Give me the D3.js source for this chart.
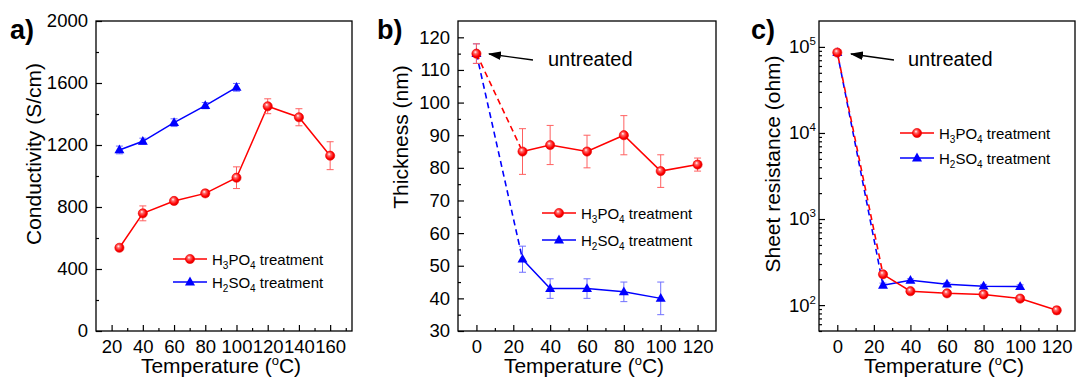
<!DOCTYPE html>
<html><head><meta charset="utf-8">
<script src="https://cdn.jsdelivr.net/npm/d3@7"></script>
<style>
body{margin:0;background:#fff}
svg{display:block}
text{font-family:"Liberation Sans",Arial,Helvetica,sans-serif;fill:#000}
</style>
</head><body>
<svg id="chart" width="1077" height="379"></svg>
<script>
// ---------------- DATA ----------------
// Panel a: conductivity (S/cm)
const tempA_H3PO4 = [25, 40, 60, 80, 100, 120, 140, 160];
const cond_H3PO4 = [537, 759, 839, 888, 989, 1450, 1379, 1131];
const cond_H3PO4_err = [15, 48, 15, 20, 70, 48, 55, 90];
const tempA_H2SO4 = [25, 40, 60, 80, 100];
const cond_H2SO4 = [1168, 1224, 1344, 1454, 1572];
const cond_H2SO4_err = [25, 20, 25, 20, 25];
const xTicksA = [20, 40, 60, 80, 100, 120, 140, 160];
const yTicksA = [0, 400, 800, 1200, 1600, 2000];

// Panel b: thickness (nm)
const tempB_H3PO4 = [0, 25, 40, 60, 80, 100, 120];
const thick_H3PO4 = [115, 85, 87, 85, 90, 79, 81];
const thick_H3PO4_err = [3, 7, 6, 5, 6, 5, 2];
const tempB_H2SO4 = [0, 25, 40, 60, 80, 100];
const thick_H2SO4 = [115, 52, 43, 43, 42, 40];
const thick_H2SO4_err = [3, 4, 3, 3, 3, 5];
const xTicksB = [0, 20, 40, 60, 80, 100, 120];
const yTicksB = [30, 40, 50, 60, 70, 80, 90, 100, 110, 120];

// Panel c: sheet resistance (ohm)
const tempC_H3PO4 = [0, 25, 40, 60, 80, 100, 120];
const res_H3PO4 = [86000, 228, 145, 137, 133, 119, 87];
const res_H3PO4_err = [5000, 14, 8, 8, 10, 8, 8];
const tempC_H2SO4 = [0, 25, 40, 60, 80, 100];
const res_H2SO4 = [86000, 170, 194, 175, 166, 164];
const res_H2SO4_err = [5000, 10, 8, 8, 8, 8];
const xTicksC = [0, 20, 40, 60, 80, 100, 120];
const yExpC = [2, 3, 4, 5];

const seriesNames = [["H", "3", "PO", "4", " treatment"], ["H", "2", "SO", "4", " treatment"]];
const RED = "#ff0000", BLUE = "#0000ff";
const TICK_FS = 18.5;

// ---------------- SETUP ----------------
const svg = d3.select("#chart");
const defs = svg.append("defs");
const grad = defs.append("radialGradient").attr("id", "sphere")
  .attr("cx", "45%").attr("cy", "45%").attr("r", "60%").attr("fx", "38%").attr("fy", "32%");
grad.append("stop").attr("offset", "0%").attr("stop-color", "#ffffff");
grad.append("stop").attr("offset", "28%").attr("stop-color", "#ff6a6a");
grad.append("stop").attr("offset", "70%").attr("stop-color", "#ff0000");
grad.append("stop").attr("offset", "100%").attr("stop-color", "#d00000");

defs.append("marker").attr("id", "arrow").attr("markerUnits", "userSpaceOnUse")
  .attr("viewBox", "0 0 12 8").attr("refX", 11).attr("refY", 4)
  .attr("markerWidth", 13).attr("markerHeight", 9).attr("orient", "auto")
  .append("path").attr("d", "M0,0 L12,4 L0,8 Z").attr("fill", "#000");

function styleAxis(g, fs) {
  g.select(".domain").remove();
  g.selectAll(".tick line").attr("stroke", "#000").attr("stroke-width", 1.2);
  g.selectAll(".tick text").attr("font-size", fs).attr("fill", "#000")
    .style("font-family", '"Liberation Sans",Arial,sans-serif');
}

function makePanel(cfg) {
  const p = {};
  p.x = d3.scaleLinear().domain(cfg.xDomain).range([cfg.left, cfg.right]);
  p.y = (cfg.log ? d3.scaleLog() : d3.scaleLinear()).domain(cfg.yDomain).range([cfg.bottom, cfg.top]);
  p.g = svg.append("g");
  // minor ticks
  const gxm = p.g.append("g").attr("transform", `translate(0,${cfg.bottom})`)
    .call(d3.axisBottom(p.x).tickValues(cfg.xMinor).tickSize(-3).tickFormat(""));
  styleAxis(gxm, TICK_FS);
  const gym = p.g.append("g").attr("transform", `translate(${cfg.left},0)`)
    .call(d3.axisLeft(p.y).tickValues(cfg.yMinor).tickSize(-3).tickFormat(""));
  styleAxis(gym, TICK_FS);
  // major ticks
  const gx = p.g.append("g").attr("transform", `translate(0,${cfg.bottom})`)
    .call(d3.axisBottom(p.x).tickValues(cfg.xTicks).tickSize(-6).tickPadding(9).tickFormat(d => d));
  styleAxis(gx, TICK_FS);
  const gy = p.g.append("g").attr("transform", `translate(${cfg.left},0)`)
    .call(d3.axisLeft(p.y).tickValues(cfg.yTicks).tickSize(-6).tickPadding(cfg.log ? 3 : 8)
      .tickFormat(cfg.log ? (() => "") : (d => d)));
  styleAxis(gy, TICK_FS);
  if (cfg.log) {
    gy.selectAll(".tick").each(function (d) {
      const t = d3.select(this).select("text");
      t.text(null).attr("x", -3).attr("dy", "0.32em").attr("text-anchor", "end");
      t.append("tspan").text("10");
      t.append("tspan").attr("font-size", 11.5).attr("dy", -8).text(Math.round(Math.log10(d)));
    });
  }
  // frame
  p.g.append("rect").attr("x", cfg.left).attr("y", cfg.top)
    .attr("width", cfg.right - cfg.left).attr("height", cfg.bottom - cfg.top)
    .attr("fill", "none").attr("stroke", "#000").attr("stroke-width", 1.3);
  // titles
  p.g.append("text").attr("transform", `translate(${cfg.ytX},${cfg.ytY}) rotate(-90)`)
    .attr("text-anchor", "middle").attr("font-size", 21).text(cfg.yTitle);
  const xt = p.g.append("text").attr("x", (cfg.left + cfg.right) / 2 - 3).attr("y", 373)
    .attr("text-anchor", "middle").attr("font-size", 21);
  xt.append("tspan").text("Temperature (");
  xt.append("tspan").attr("font-size", 13).attr("dy", -8).text("o");
  xt.append("tspan").attr("dy", 8).text("C)");
  p.g.append("text").attr("x", cfg.labelX).attr("y", 39).attr("font-size", 27)
    .attr("font-weight", "bold").text(cfg.label);
  p.lines = p.g.append("g");
  p.errs = p.g.append("g");
  p.marks = p.g.append("g");
  return p;
}

function markerShape(sel, kind, cx, cy) {
  if (kind === "circle") {
    sel.append("circle").attr("cx", cx).attr("cy", cy).attr("r", 4.6)
      .attr("fill", "url(#sphere)").attr("stroke", "#ee0000").attr("stroke-width", 0.6);
  } else {
    sel.append("path").attr("transform", `translate(${cx},${cy})`)
      .attr("d", "M0,-5.4 L5,3.4 L-5,3.4 Z").attr("fill", BLUE);
  }
}

function drawSeries(p, xs, ys, errs, color, errColor, kind, dashedFirst, dashOffset) {
  const pts = xs.map((t, i) => ({ t, v: ys[i], e: errs[i] }));
  const line = d3.line().x(d => p.x(d.t)).y(d => p.y(d.v));
  if (dashedFirst) {
    p.lines.append("path").datum(pts.slice(0, 2)).attr("d", line).attr("fill", "none")
      .attr("stroke", color).attr("stroke-width", 1.6).attr("stroke-dasharray", "6,4")
      .attr("stroke-dashoffset", dashOffset || 0);
    p.lines.append("path").datum(pts.slice(1)).attr("d", line).attr("fill", "none")
      .attr("stroke", color).attr("stroke-width", 1.5);
  } else {
    p.lines.append("path").datum(pts).attr("d", line).attr("fill", "none")
      .attr("stroke", color).attr("stroke-width", 1.5);
  }
  pts.forEach(d => {
    const cx = p.x(d.t), y1 = p.y(d.v + d.e), y2 = p.y(d.v - d.e);
    const g = p.errs.append("g").attr("stroke", errColor).attr("stroke-width", 1);
    g.append("line").attr("x1", cx).attr("x2", cx).attr("y1", y1).attr("y2", y2);
    g.append("line").attr("x1", cx - 3.5).attr("x2", cx + 3.5).attr("y1", y1).attr("y2", y1);
    g.append("line").attr("x1", cx - 3.5).attr("x2", cx + 3.5).attr("y1", y2).attr("y2", y2);
    markerShape(p.marks, kind, cx, p.y(d.v));
  });
}

function legend(x0, y0, dy) {
  const g = svg.append("g");
  [[RED, "circle"], [BLUE, "tri"]].forEach((s, i) => {
    const y = y0 + i * dy;
    g.append("line").attr("x1", x0).attr("x2", x0 + 34).attr("y1", y).attr("y2", y)
      .attr("stroke", s[0]).attr("stroke-width", 1.5);
    markerShape(g, s[1], x0 + 17, y);
    const t = g.append("text").attr("x", x0 + 39).attr("y", y + 5.5).attr("font-size", 15);
    const n = seriesNames[i];
    t.append("tspan").text(n[0]);
    t.append("tspan").attr("font-size", 10).attr("dy", 4).text(n[1]);
    t.append("tspan").attr("dy", -4).text(n[2]);
    t.append("tspan").attr("font-size", 10).attr("dy", 4).text(n[3]);
    t.append("tspan").attr("dy", -4).text(n[4]);
  });
}

function annotate(x1, y1, x2, y2, tx) {
  svg.append("line").attr("x1", x1).attr("y1", y1).attr("x2", x2).attr("y2", y2)
    .attr("stroke", "#000").attr("stroke-width", 1.3).attr("marker-end", "url(#arrow)");
  svg.append("text").attr("x", tx).attr("y", 66).attr("font-size", 20).text("untreated");
}

const range = (a, b, s) => d3.range(a, b + 0.001, s);

// ---------------- PANEL a ----------------
const pa = makePanel({
  left: 96, right: 352, top: 21, bottom: 331,
  xDomain: [10, 174], yDomain: [0, 2000],
  xTicks: xTicksA, xMinor: range(30, 170, 20),
  yTicks: yTicksA, yMinor: range(200, 1800, 400),
  yTitle: "Conductivity (S/cm)", ytX: 41, ytY: 154, label: "a)", labelX: 10
});
drawSeries(pa, tempA_H2SO4, cond_H2SO4, cond_H2SO4_err, BLUE, "#7070ff", "tri", false);
drawSeries(pa, tempA_H3PO4, cond_H3PO4, cond_H3PO4_err, RED, "#ff6060", "circle", false);
legend(173, 259, 23);

// ---------------- PANEL b ----------------
const pb = makePanel({
  left: 458, right: 716, top: 21, bottom: 331,
  xDomain: [-10, 130], yDomain: [30, 125],
  xTicks: xTicksB, xMinor: range(10, 110, 20),
  yTicks: yTicksB, yMinor: range(35, 115, 10),
  yTitle: "Thickness (nm)", ytX: 408, ytY: 137, label: "b)", labelX: 377
});
drawSeries(pb, tempB_H2SO4, thick_H2SO4, thick_H2SO4_err, BLUE, "#7070ff", "tri", true);
drawSeries(pb, tempB_H3PO4, thick_H3PO4, thick_H3PO4_err, RED, "#ff6060", "circle", true);
legend(542, 213, 27);
annotate(533, 60, 489, 54, 548);

// ---------------- PANEL c ----------------
const logMinor = [];
[1, 2, 3, 4].forEach(k => d3.range(2, 10).forEach(m => {
  const v = m * Math.pow(10, k);
  if (v >= 50 && v < 200000) logMinor.push(v);
}));
const pc = makePanel({
  left: 819, right: 1075, top: 21, bottom: 331, log: true,
  xDomain: [-10, 130], yDomain: [50, 200000],
  xTicks: xTicksC, xMinor: range(10, 110, 20),
  yTicks: yExpC.map(e => Math.pow(10, e)), yMinor: logMinor,
  yTitle: "Sheet resistance (ohm)", ytX: 780, ytY: 164, label: "c)", labelX: 751
});
drawSeries(pc, tempC_H2SO4, res_H2SO4, res_H2SO4_err, BLUE, "#7070ff", "tri", true, 0);
drawSeries(pc, tempC_H3PO4, res_H3PO4, res_H3PO4_err, RED, "#ff6060", "circle", true, 5);
legend(900, 133, 25);
annotate(894, 60, 851, 54, 908);
</script>
</body></html>
